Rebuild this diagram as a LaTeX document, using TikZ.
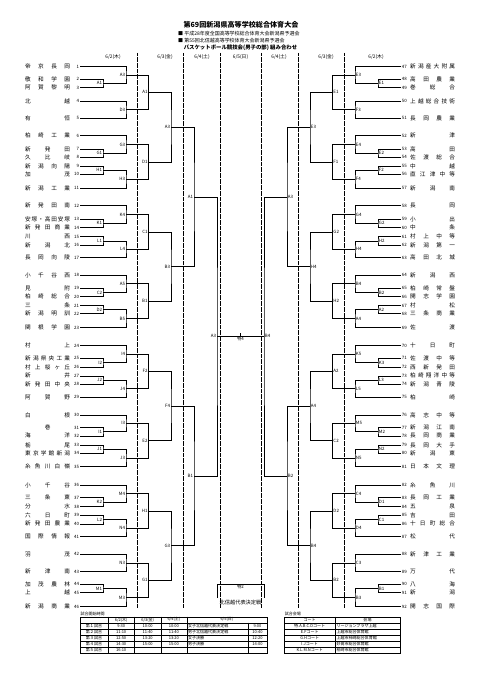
\documentclass[tikz,border=0pt]{standalone}
\usepackage{fontspec}
\setmainfont{Noto Sans CJK JP}
\usetikzlibrary{calc}
\newlength\namew
\setlength\namew{19.6mm}
% spread the letters of a school name over the name column
\def\spr#1#2\relax{#1\ifx\relax#2\relax\else\hfill\spr#2\relax\fi}
\newcommand\tname[1]{\hbox to\namew{\expandafter\spr#1\relax}}
% one game: name, upper entry, lower entry, x of the bar, label, label anchor
\newcommand\game[6]{%
  \coordinate (#1m) at ($(#2)!0.5!(#3)$);
  \coordinate (#1) at (#4,0 |- #1m);
  \draw[bline] (#2) -| (#1) |- (#3);
  \node[glabel, anchor=#6] (#1t) at (#1) {#5};
}
\tikzset{
  bline/.style={draw=black, line width=0.65pt},
  sep/.style={draw=black, densely dotted, line width=0.5pt},
  tline/.style={draw=black, line width=0.5pt},
  team/.style={inner sep=0pt, font=\fontsize{7}{8}\selectfont},
  num/.style={inner sep=1pt, font=\fontsize{5.5}{6}\selectfont},
  glabel/.style={inner sep=1pt, font=\fontsize{5.5}{6}\selectfont},
  date/.style={inner sep=0pt, font=\fontsize{6}{7}\selectfont},
  ttl/.style={inner sep=0pt, font=\fontsize{8.8}{10}\selectfont\bfseries},
  sub/.style={inner sep=0pt, font=\fontsize{6.2}{7}\selectfont},
  cell/.style={inner sep=0.5pt, font=\fontsize{5}{6}\selectfont},
  note/.style={inner sep=0pt, font=\fontsize{6.5}{7}\selectfont},
}
\begin{document}
\begin{tikzpicture}[x=0.4366mm, y=-0.4366mm]
  \useasboundingbox (0,0) rectangle (481,680);
  % heading
  \node[ttl] (title) at (241,25) {第69回新潟県高等学校総合体育大会};
  \node[sub, anchor=west] (sub1) at (178,33.5) {■\ 平成28年度全国高等学校総合体育大会新潟県予選会};
  \node[sub, anchor=west] (sub2) at (178,40.5) {■\ 第55回北信越高等学校体育大会新潟県予選会};
  \node[sub, font=\fontsize{6.7}{7}\selectfont\bfseries] (sub3) at (240.5,47.5) {バスケットボール競技会(男子の部)\ 組み合わせ};
  % days
  \foreach \x in {137,183,220,261,298,344} \draw[sep] (\x,53) -- (\x,608);
  \foreach \x/\d [count=\k] in {113/2(木),165/3(金),202/4(土),240.5/5(日),279/4(土),326/3(金),376/2(木)}
    \node[date] (d\k) at (\x,57) {6/\d};
  % schools, left 1-46 and right 47-92
  \foreach \i/\y/\lname/\rname in {
    1/66.7/帝京長岡/新潟産大附属,
    2/79/敬和学園/高田農業,
    3/87.7/阿賀黎明/巻総合,
    4/101/北越/上越総合技術,
    5/118.3/有恒/長岡農業,
    6/135.7/柏崎工業/新津,
    7/149/新発田/高田,
    8/157.3/久比岐/佐渡総合,
    9/166/新潟向陽/中越,
    10/174.3/加茂/直江津中等,
    11/188.3/新潟工業/新潟南,
    12/205.7/新発田南/長岡,
    13/219/安塚・高田安塚/小出,
    14/227.7/新発田商業/中条,
    15/236.7/川西/村上中等,
    16/245/新潟北/新潟第一,
    17/257.7/長岡向陵/高田北城,
    18/275/小千谷西/新潟西,
    19/288.3/見附/柏崎常盤,
    20/296.7/柏崎総合/開志学園,
    21/305.7/三条/村松,
    22/313.5/新潟明訓/三条商業,
    23/327.7/関根学園/佐渡,
    24/345.5/村上/十日町,
    25/358.3/新潟県央工業/佐渡中等,
    26/367.2/村上桜ヶ丘/西新発田,
    27/375.8/新井/柏崎翔洋中等,
    28/384.2/新発田中央/新潟青陵,
    29/397.2/阿賀野/柏崎,
    30/415/白根/高志中等,
    31/427.7/\hfill 巻\hfill/新潟江南,
    32/435.8/海洋/長岡商業,
    33/445/栃尾/長岡大手,
    34/453.3/東京学館新潟/新潟東,
    35/466.7/糸魚川白嶺/日本文理,
    36/485/小千谷/糸魚川,
    37/497.7/三条東/長岡工業,
    38/506.7/分水/五泉,
    39/515.3/六日町/吉田,
    40/523.8/新発田農業/十日町総合,
    41/536.7/国際情報/松代,
    42/554.3/羽茂/新津工業,
    43/571.7/新津南/万代,
    44/584.3/加茂農林/八海,
    45/592.7/上越/新潟,
    46/606.5/新潟商業/開志国際} {
    \pgfmathtruncatemacro{\j}{\i+46}
    \coordinate (t\i) at (80,\y);
    \coordinate (t\j) at (401,\y);
    \node[num, anchor=east] (n\i) at (t\i) {\i};
    \node[num, anchor=west] (n\j) at (t\j) {\j};
    \node[team, anchor=west] (s\i) at (25,\y) {\tname\lname};
    \node[team, anchor=west] (s\j) at (410,\y) {\tname\rname};
  }
  % left half, 6/2
  \game{L1A1}{t2}{t3}{103}{A1}{east}
  \game{L1A3}{t1}{L1A1}{126}{A3}{east}
  \game{L1D3}{t4}{t5}{126}{D3}{east}
  \game{L1G1}{t7}{t8}{103}{G1}{east}
  \game{L1G3}{t6}{L1G1}{126}{G3}{east}
  \game{L1H1}{t9}{t10}{103}{H1}{east}
  \game{L1H3}{L1H1}{t11}{126}{H3}{east}
  \game{L1K1}{t13}{t14}{103}{K1}{east}
  \game{L1K4}{t12}{L1K1}{126}{K4}{east}
  \game{L1L1}{t15}{t16}{103}{L1}{east}
  \game{L1L4}{L1L1}{t17}{126}{L4}{east}
  \game{L1C2}{t19}{t20}{103}{C2}{east}
  \game{L1A5}{t18}{L1C2}{126}{A5}{east}
  \game{L1D2}{t21}{t22}{103}{D2}{east}
  \game{L1B5}{L1D2}{t23}{126}{B5}{east}
  \game{L1I2}{t25}{t26}{103}{I2}{east}
  \game{L1I4}{t24}{L1I2}{126}{I4}{east}
  \game{L1J2}{t27}{t28}{103}{J2}{east}
  \game{L1J4}{L1J2}{t29}{126}{J4}{east}
  \game{L1I1}{t31}{t32}{103}{I1}{east}
  \game{L1I3}{t30}{L1I1}{126}{I3}{east}
  \game{L1J1}{t33}{t34}{103}{J1}{east}
  \game{L1J3}{L1J1}{t35}{126}{J3}{east}
  \game{L1K2}{t37}{t38}{103}{K2}{east}
  \game{L1M4}{t36}{L1K2}{126}{M4}{east}
  \game{L1L2}{t39}{t40}{103}{L2}{east}
  \game{L1N4}{L1L2}{t41}{126}{N4}{east}
  \game{L1N3}{t42}{t43}{126}{N3}{east}
  \game{L1M1}{t44}{t45}{103}{M1}{east}
  \game{L1M3}{L1M1}{t46}{126}{M3}{east}
  % left half, 6/3 - 6/5
  \game{L2A1}{L1A3}{L1D3}{148.5}{A1}{east}
  \game{L2D1}{L1G3}{L1H3}{148.5}{D1}{east}
  \game{L2C1}{L1K4}{L1L4}{148.5}{C1}{east}
  \game{L2B1}{L1A5}{L1B5}{148.5}{B1}{east}
  \game{L2F2}{L1I4}{L1J4}{148.5}{F2}{east}
  \game{L2E2}{L1I3}{L1J3}{148.5}{E2}{east}
  \game{L2H1}{L1M4}{L1N4}{148.5}{H1}{east}
  \game{L2G1}{L1N3}{L1M3}{148.5}{G1}{east}
  \game{L2A3}{L2A1}{L2D1}{171}{A3}{east}
  \game{L2B3}{L2C1}{L2B1}{171}{B3}{east}
  \game{L2F4}{L2F2}{L2E2}{171}{F4}{east}
  \game{L2G3}{L2H1}{L2G1}{171}{G3}{east}
  \game{L3A1}{L2A3}{L2B3}{194}{A1}{east}
  \game{L3B1}{L2F4}{L2G3}{194}{B1}{east}
  \game{LF}{L3A1}{L3B1}{217}{A3}{east}
  % right half, 6/2
  \game{R1E1}{t48}{t49}{378}{E1}{west}
  \game{R1E3}{t47}{R1E1}{355}{E3}{west}
  \game{R1F3}{t50}{t51}{355}{F3}{west}
  \game{R1E2}{t53}{t54}{378}{E2}{west}
  \game{R1E4}{t52}{R1E2}{355}{E4}{west}
  \game{R1F2}{t55}{t56}{378}{F2}{west}
  \game{R1F4}{R1F2}{t57}{355}{F4}{west}
  \game{R1G2}{t59}{t60}{378}{G2}{west}
  \game{R1G4}{t58}{R1G2}{355}{G4}{west}
  \game{R1H2}{t61}{t62}{378}{H2}{west}
  \game{R1H4}{R1H2}{t63}{355}{H4}{west}
  \game{R1B2}{t65}{t66}{378}{B2}{west}
  \game{R1B4}{t64}{R1B2}{355}{B4}{west}
  \game{R1A2}{t67}{t68}{378}{A2}{west}
  \game{R1A4}{R1A2}{t69}{355}{A4}{west}
  \game{R1K3}{t71}{t72}{378}{K3}{west}
  \game{R1K5}{t70}{R1K3}{355}{K5}{west}
  \game{R1L3}{t73}{t74}{378}{L3}{west}
  \game{R1L5}{R1L3}{t75}{355}{L5}{west}
  \game{R1M2}{t77}{t78}{378}{M2}{west}
  \game{R1M5}{t76}{R1M2}{355}{M5}{west}
  \game{R1N2}{t79}{t80}{378}{N2}{west}
  \game{R1N5}{R1N2}{t81}{355}{N5}{west}
  \game{R1D1}{t83}{t84}{378}{D1}{west}
  \game{R1C4}{t82}{R1D1}{355}{C4}{west}
  \game{R1C1}{t85}{t86}{378}{C1}{west}
  \game{R1D4}{R1C1}{t87}{355}{D4}{west}
  \game{R1C3}{t88}{t89}{355}{C3}{west}
  \game{R1B1}{t90}{t91}{378}{B1}{west}
  \game{R1B3}{R1B1}{t92}{355}{B3}{west}
  % right half, 6/3 - 6/5
  \game{R2E1}{R1E3}{R1F3}{332.5}{E1}{west}
  \game{R2F1}{R1E4}{R1F4}{332.5}{F1}{west}
  \game{R2G2}{R1G4}{R1H4}{332.5}{G2}{west}
  \game{R2H2}{R1B4}{R1A4}{332.5}{H2}{west}
  \game{R2A2}{R1K5}{R1L5}{332.5}{A2}{west}
  \game{R2C2}{R1M5}{R1N5}{332.5}{C2}{west}
  \game{R2D2}{R1C4}{R1D4}{332.5}{D2}{west}
  \game{R2B2}{R1C3}{R1B3}{332.5}{B2}{west}
  \game{R2E3}{R2E1}{R2F1}{310}{E3}{west}
  \game{R2H4}{R2G2}{R2H2}{310}{H4}{west}
  \game{R2A4}{R2A2}{R2C2}{310}{A4}{west}
  \game{R2B4}{R2D2}{R2B2}{310}{B4}{west}
  \game{R3A3}{R2E3}{R2H4}{287}{A3}{west}
  \game{R3B2}{R2A4}{R2B4}{287}{B2}{west}
  \game{RF}{R3A3}{R3B2}{264}{B4}{west}
  % final
  \draw[bline] (LF) -- (RF);
  \coordinate (FC) at ($(LF)!0.5!(RF)$);
  \coordinate (FT) at ($(FC)+(0,-3.5)$);
  \draw[bline] (FC) -- (FT);
  \node[glabel, anchor=north] (final) at (FC) {特4};
  % third place
  \coordinate (TL) at (217,584.3);
  \coordinate (TR) at (264,584.3);
  \coordinate (TLb) at (217,598);
  \coordinate (TRb) at (264,598);
  \draw[bline] (TLb) -- (TL) -- (TR) -- (TRb);
  \coordinate (TC) at ($(TL)!0.5!(TR)$);
  \node[glabel, anchor=north] (third) at (TC) {特2};
  \node[note] (thirdt) at (240.5,602.5) {北信越代表決定戦};
  % start times
  \node[cell, anchor=south west] (cap1) at (80,616.2) {試合開始時間};
  \draw[tline] (80,616.7) rectangle (267,652.7);
  \foreach \yy in {622.7,628.7,634.7,640.7,646.7} \draw[tline] (80,\yy) -- (267,\yy);
  \foreach \xx in {108,134.3,161,186.7} \draw[tline] (\xx,616.7) -- (\xx,652.7);
  \draw[tline] (248,622.7) -- (248,652.7);
  \foreach \xx/\d [count=\k] in {121.2/2(木),147.7/3(金),173.9/4(土),226.9/5(日)}
    \node[cell] (h\k) at (\xx,619.7) {6/\d};
  \foreach \r/\a/\b/\c/\e/\f [count=\k] in {１/9:30/10:00/10:00/女子北信越代表決定戦/9:00,
      ２/11:10/11:40/11:40/男子北信越代表決定戦/10:40,
      ３/12:50/13:20/13:20/女子決勝/12:20,
      ４/14:30/15:00/15:00/男子決勝/14:00,
      ５/16:10/ / / / } {
    \node[cell] (g\k) at (94,{619.7+6*\k}) {第\r 試合};
    \node[cell] (ga\k) at (121.2,{619.7+6*\k}) {\a};
    \node[cell] (gb\k) at (147.7,{619.7+6*\k}) {\b};
    \node[cell] (gc\k) at (173.9,{619.7+6*\k}) {\c};
    \node[cell, anchor=west] (ge\k) at (187.5,{619.7+6*\k}) {\e};
    \node[cell] (gf\k) at (257.5,{619.7+6*\k}) {\f};
  }
  % venues
  \node[cell, anchor=south west] (cap2) at (284.3,616.2) {試合会場};
  \draw[tline] (284.3,616.7) rectangle (400,652.7);
  \foreach \yy in {622.7,628.7,634.7,640.7,646.7} \draw[tline] (284.3,\yy) -- (400,\yy);
  \draw[tline] (335,616.7) -- (335,652.7);
  \node[cell] (vc) at (309.7,619.7) {コート};
  \node[cell] (vh) at (367.5,619.7) {会場};
  \foreach \c/\v [count=\k] in {特.A.B.C.Dコート/リージョンプラザ上越,
      E.Fコート/上越市総合体育館,
      G.Hコート/上越市柿崎総合体育館,
      I.Jコート/妙高市総合体育館,
      K.L.M.Nコート/柏崎市総合体育館} {
    \node[cell] (vc\k) at (309.7,{619.7+6*\k}) {\c};
    \node[cell, anchor=west] (vv\k) at (336,{619.7+6*\k}) {\v};
  }
\end{tikzpicture}
\end{document}
